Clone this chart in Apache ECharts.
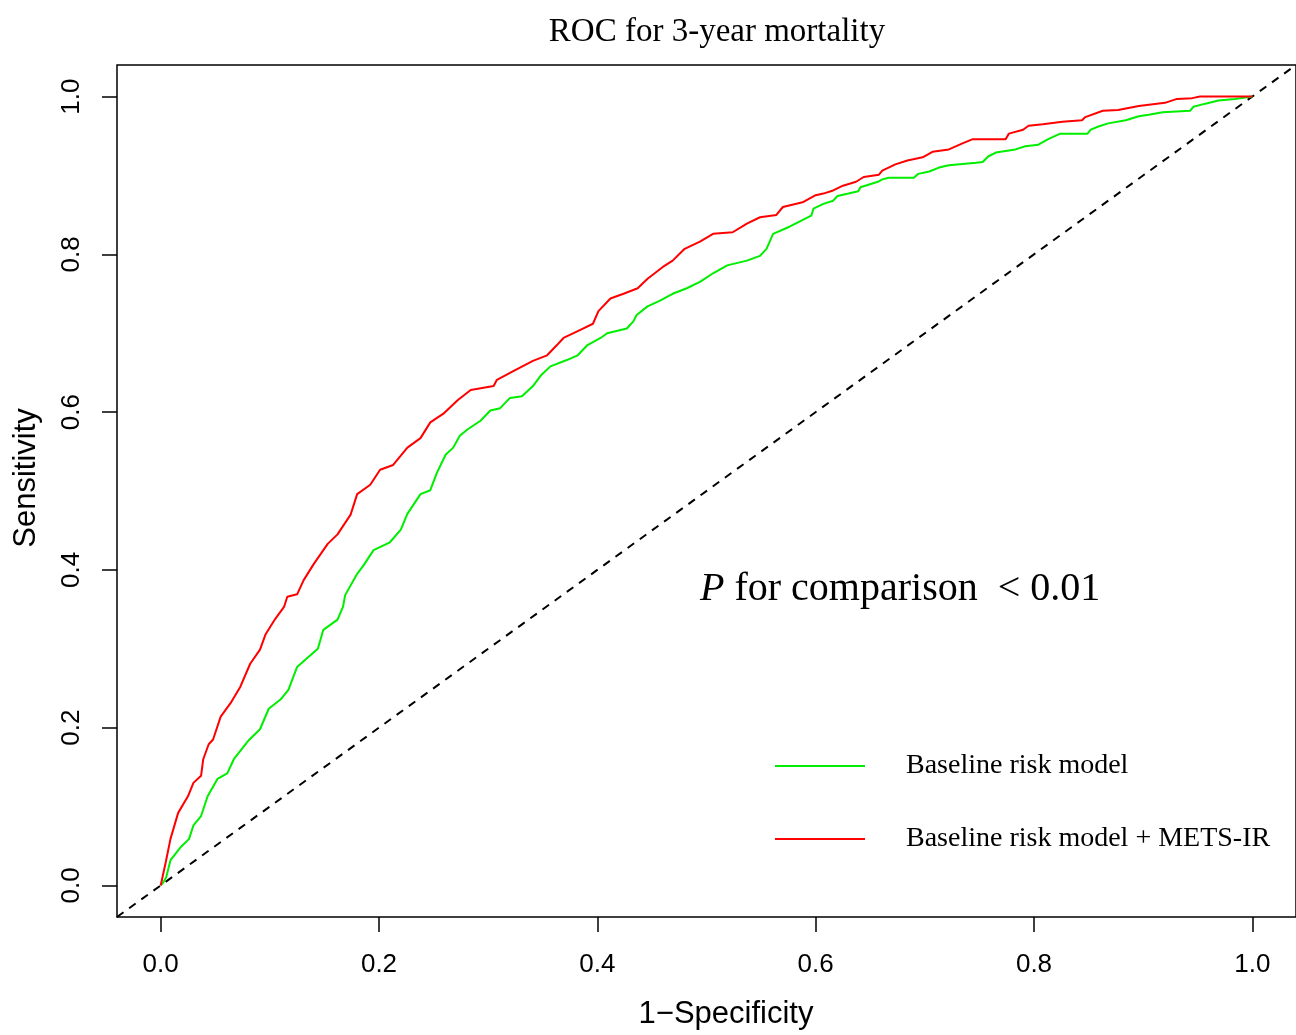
<!DOCTYPE html>
<html>
<head>
<meta charset="utf-8">
<script src="https://cdn.jsdelivr.net/npm/echarts@6/dist/echarts.min.js"></script>
<style>
  html, body { margin: 0; padding: 0; background: #fff; }
  #chart { width: 1296px; height: 1035px; }
</style>
</head>
<body>
<div id="chart"></div>
<script>
// ---- Data ----
const chartTitle = 'ROC for 3-year mortality';
const xAxisName = '1\u2212Specificity';
const yAxisName = 'Sensitivity';
const seriesNames = ['Baseline risk model', 'Baseline risk model + METS-IR'];
const xTicks = [0, 0.2, 0.4, 0.6, 0.8, 1.0];
const yTicks = [0, 0.2, 0.4, 0.6, 0.8, 1.0];
const diagonal = [[-0.04, -0.04], [1.04, 1.04]];

// [1 - specificity, sensitivity]
const baselineRoc = [
  [0,0],[0.002,0.003],[0.005,0.010],[0.009,0.032],[0.018,0.048],[0.026,0.059],[0.030,0.076],
  [0.037,0.088],[0.043,0.113],[0.052,0.135],[0.061,0.142],[0.067,0.160],[0.080,0.183],
  [0.091,0.198],[0.099,0.224],[0.110,0.236],[0.117,0.248],[0.125,0.277],[0.134,0.288],
  [0.144,0.300],[0.149,0.324],[0.162,0.337],[0.167,0.353],[0.169,0.368],[0.180,0.395],
  [0.186,0.406],[0.195,0.425],[0.210,0.435],[0.220,0.451],[0.226,0.471],[0.238,0.496],
  [0.247,0.501],[0.253,0.523],[0.261,0.546],[0.268,0.555],[0.274,0.570],[0.281,0.578],
  [0.293,0.589],[0.302,0.602],[0.311,0.605],[0.320,0.618],[0.331,0.620],[0.341,0.633],
  [0.348,0.646],[0.357,0.658],[0.372,0.666],[0.382,0.672],[0.391,0.685],[0.403,0.694],
  [0.409,0.700],[0.427,0.706],[0.433,0.715],[0.436,0.723],[0.446,0.734],[0.457,0.741],
  [0.469,0.750],[0.482,0.757],[0.494,0.765],[0.506,0.776],[0.519,0.786],[0.537,0.792],
  [0.549,0.798],[0.555,0.807],[0.561,0.826],[0.576,0.835],[0.586,0.842],[0.596,0.849],
  [0.598,0.858],[0.607,0.864],[0.616,0.868],[0.620,0.874],[0.630,0.877],[0.639,0.880],
  [0.641,0.885],[0.657,0.892],[0.661,0.895],[0.667,0.897],[0.690,0.897],[0.694,0.902],
  [0.704,0.905],[0.713,0.910],[0.722,0.913],[0.747,0.916],[0.753,0.917],[0.758,0.924],
  [0.765,0.929],[0.783,0.933],[0.792,0.937],[0.804,0.939],[0.813,0.946],[0.824,0.953],
  [0.849,0.953],[0.852,0.958],[0.859,0.962],[0.868,0.966],[0.884,0.970],[0.896,0.975],
  [0.905,0.977],[0.918,0.980],[0.943,0.982],[0.946,0.987],[0.957,0.991],[0.969,0.995],
  [0.984,0.997],[1,1]
];

const metsIrRoc = [
  [0,0],[0.0046,0.029],[0.009,0.059],[0.016,0.092],[0.025,0.113],[0.030,0.130],[0.037,0.139],
  [0.039,0.160],[0.044,0.179],[0.048,0.185],[0.055,0.214],[0.064,0.231],[0.073,0.252],
  [0.082,0.281],[0.091,0.299],[0.096,0.318],[0.105,0.338],[0.113,0.353],[0.116,0.366],
  [0.125,0.369],[0.131,0.387],[0.140,0.407],[0.153,0.433],[0.162,0.445],[0.174,0.470],
  [0.180,0.496],[0.192,0.508],[0.201,0.527],[0.213,0.533],[0.226,0.555],[0.238,0.567],
  [0.247,0.587],[0.259,0.598],[0.272,0.615],[0.284,0.628],[0.305,0.633],[0.308,0.641],
  [0.323,0.652],[0.341,0.665],[0.354,0.672],[0.363,0.685],[0.369,0.694],[0.384,0.704],
  [0.396,0.712],[0.401,0.728],[0.412,0.744],[0.424,0.750],[0.437,0.757],[0.446,0.769],
  [0.460,0.784],[0.469,0.792],[0.480,0.807],[0.494,0.816],[0.506,0.826],[0.524,0.828],
  [0.537,0.839],[0.549,0.847],[0.564,0.850],[0.570,0.860],[0.588,0.866],[0.600,0.875],
  [0.607,0.877],[0.616,0.881],[0.625,0.887],[0.637,0.892],[0.644,0.898],[0.658,0.901],
  [0.661,0.906],[0.673,0.914],[0.684,0.919],[0.698,0.923],[0.707,0.930],[0.722,0.933],
  [0.735,0.941],[0.744,0.946],[0.774,0.946],[0.777,0.953],[0.790,0.958],[0.795,0.963],
  [0.808,0.965],[0.826,0.968],[0.844,0.970],[0.847,0.974],[0.863,0.982],[0.877,0.983],
  [0.896,0.988],[0.920,0.992],[0.931,0.997],[0.945,0.998],[0.952,1.0],[1,1]
];

// ---- Chart ----
const SANS = 'Liberation Sans, Arial, Helvetica, sans-serif';
const SERIF = 'Liberation Serif, Times New Roman, serif';
const chart = echarts.init(document.getElementById('chart'), null, { renderer: 'canvas', width: 1296, height: 1035 });

const option = {
  backgroundColor: '#ffffff',
  animation: false,
  title: {
    text: chartTitle,
    left: 717,
    textAlign: 'center',
    top: 16,
    padding: 0,
    textStyle: { fontFamily: SERIF, fontSize: 33, fontWeight: 'normal', color: '#000' }
  },
  grid: {
    left: 117, top: 65, width: 1179, height: 856,
    show: true, borderColor: '#000', borderWidth: 1.5, backgroundColor: 'transparent'
  },
  xAxis: {
    type: 'value', min: -0.04, max: 1.04,
    name: xAxisName, nameLocation: 'middle', nameGap: 82,
    nameTextStyle: { fontFamily: SANS, fontSize: 31, color: '#000', padding: [0, 0, 0, 39] },
    axisLine: { show: false, onZero: false },
    splitLine: { show: false },
    axisTick: { show: true, inside: false, customValues: xTicks, length: 15, lineStyle: { color: '#000', width: 1.5 } },
    axisLabel: {
      customValues: xTicks, margin: 35,
      fontFamily: SANS, fontSize: 26, color: '#000',
      formatter: v => v.toFixed(1)
    }
  },
  yAxis: {
    type: 'value', min: -0.04, max: 1.04,
    name: yAxisName, nameLocation: 'middle', nameGap: 75, nameRotate: 90,
    nameTextStyle: { fontFamily: SANS, fontSize: 31, color: '#000', padding: [0, 0, 0, 26] },
    axisLine: { show: false, onZero: false },
    splitLine: { show: false },
    axisTick: { show: true, inside: false, customValues: yTicks, length: 15, lineStyle: { color: '#000', width: 1.5 } },
    axisLabel: {
      customValues: yTicks, margin: 32, rotate: 90,
      fontFamily: SANS, fontSize: 26, color: '#000',
      formatter: v => v.toFixed(1)
    }
  },
  legend: {
    data: seriesNames,
    orient: 'vertical',
    left: 775, top: 751, padding: 0,
    itemWidth: 90, itemHeight: 14, itemGap: 43,
    icon: 'path://M0,6 L90,6 L90,8 L0,8 Z',
    textStyle: { fontFamily: SERIF, fontSize: 28, lineHeight: 30, color: '#000', padding: [0, 0, 0, 36] }
  },
  graphic: [
    {
      type: 'text',
      x: 700, y: 589,
      style: {
        text: '{i|P} for comparison  < 0.01',
        fontFamily: SERIF, fontSize: 40, fill: '#000',
        verticalAlign: 'middle',
        rich: { i: { fontFamily: SERIF, fontSize: 40, fontStyle: 'italic', fill: '#000' } }
      }
    }
  ],
  series: [
    {
      name: 'diagonal',
      type: 'line',
      data: diagonal,
      symbol: 'none',
      silent: true,
      lineStyle: { color: '#000', width: 2, type: [8, 7] },
      z: 1
    },
    {
      name: seriesNames[0],
      type: 'line',
      data: baselineRoc,
      symbol: 'none',
      color: '#00ee00',
      lineStyle: { color: '#00ee00', width: 2 },
      itemStyle: { color: '#00ee00' },
      z: 2
    },
    {
      name: seriesNames[1],
      type: 'line',
      data: metsIrRoc,
      symbol: 'none',
      color: '#ff0000',
      lineStyle: { color: '#ff0000', width: 2 },
      itemStyle: { color: '#ff0000' },
      z: 3
    }
  ]
};
chart.setOption(option);
</script>
</body>
</html>
